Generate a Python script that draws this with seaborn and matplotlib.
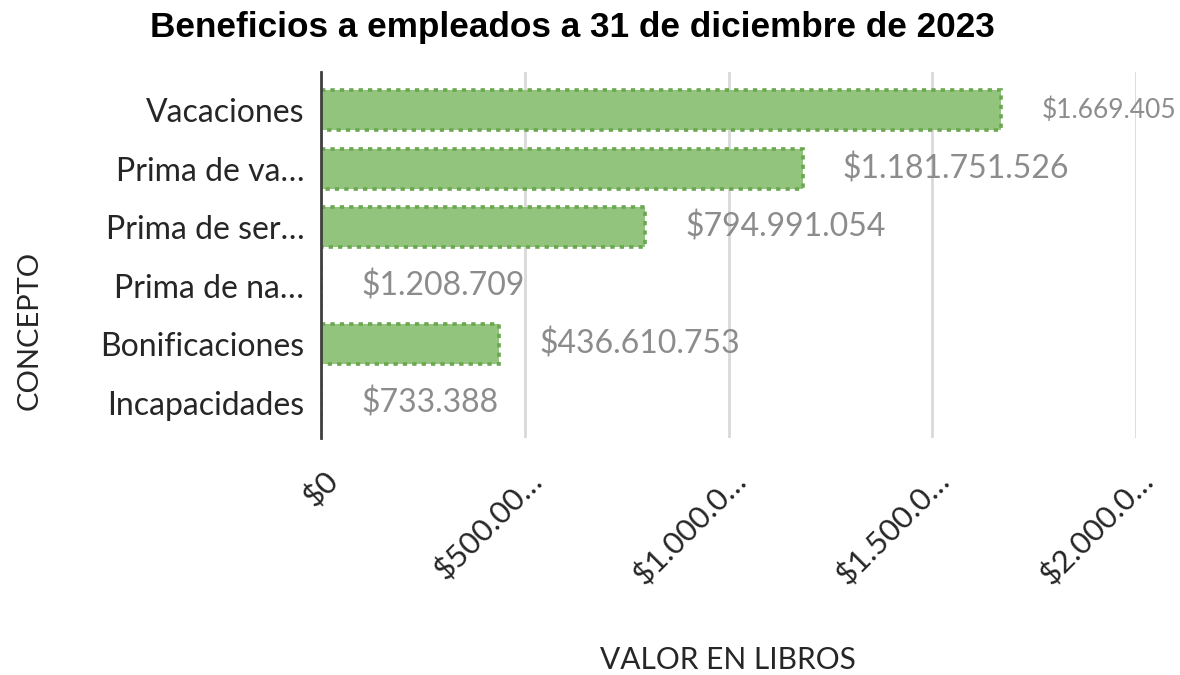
import numpy as np
import pandas as pd
import matplotlib.pyplot as plt
import matplotlib.transforms as mtransforms
import seaborn as sns

# data
conceptos = ["Vacaciones", "Prima de va…", "Prima de ser…", "Prima de na…",
             "Bonificaciones", "Incapacidades"]
valores = [1669405000, 1181751526, 794991054, 1208709, 436610753, 733388]
etiquetas = ["$1.669.405", "$1.181.751.526", "$794.991.054", "$1.208.709",
             "$436.610.753", "$733.388"]
xticks = [0, 500000000, 1000000000, 1500000000, 2000000000]
xtick_labels = ["$0", "$500.00…", "$1.000.0…", "$1.500.0…", "$2.000.0…"]

df = pd.DataFrame({"Concepto": conceptos, "Valor": valores})

sns.set_theme(style="white")
plt.rcParams['font.family'] = ['Lato', 'DejaVu Sans']

fig = plt.figure(figsize=(11.8, 6.75), dpi=100)
ax = fig.add_axes([321/1180, 1-438/675, (1136-321)/1180, (438-72)/675])

sns.barplot(data=df, x="Valor", y="Concepto", orient="h", color="#93c47d",
            width=0.68, edgecolor="#6aa84f", linewidth=2.6,
            linestyle=(0, (1.2, 1.4)), saturation=1, ax=ax)

ax.set_xlim(0, 2000000000)
ax.set_ylim(5.6, -0.65)
ax.set_xticks(xticks)
ax.set_xticklabels(xtick_labels, rotation=45, ha="right", rotation_mode="anchor",
                   fontsize=22.5, color="#262626")
ax.set_yticks(range(len(conceptos)))
ax.set_yticklabels(conceptos, fontsize=23, color="#262626")
ax.tick_params(axis="y", length=0, pad=12)
ax.tick_params(axis="x", length=0, pad=20)
offset = mtransforms.ScaledTranslation(3/100, 0, fig.dpi_scale_trans)
for lbl in ax.get_xticklabels():
    lbl.set_transform(lbl.get_transform() + offset)

ax.grid(axis="x", color="#d9d9d9", linewidth=2)
ax.set_axisbelow(True)
for s in ["top", "right", "bottom"]:
    ax.spines[s].set_visible(False)
ax.spines["left"].set_color("#404040")
ax.spines["left"].set_linewidth(2)
ax.spines["left"].set_zorder(1)

for i, (v, t) in enumerate(zip(valores, etiquetas)):
    fs = 19 if i == 0 else 23
    ax.annotate(t, xy=(v, i), xytext=(29, 0), textcoords="offset points",
                va="center", ha="left", fontsize=fs, color="#8c8c8c")

ax.set_xlabel("")
ax.set_ylabel("")
fig.text(728/1180, 1-660/675, "VALOR EN LIBROS", ha="center", va="center",
         fontsize=21.5, color="#262626")
fig.text(30/1180, 1-330/675, "CONCEPTO", ha="center", va="center",
         rotation=90, fontsize=21, color="#262626")
fig.text(572/1180, 1-28/675, "Beneficios a empleados a 31 de diciembre de 2023",
         ha="center", va="center", fontsize=25.3, fontweight="bold",
         family=["Liberation Sans", "DejaVu Sans"], color="#000000")

fig.savefig("out.png", dpi=100)
